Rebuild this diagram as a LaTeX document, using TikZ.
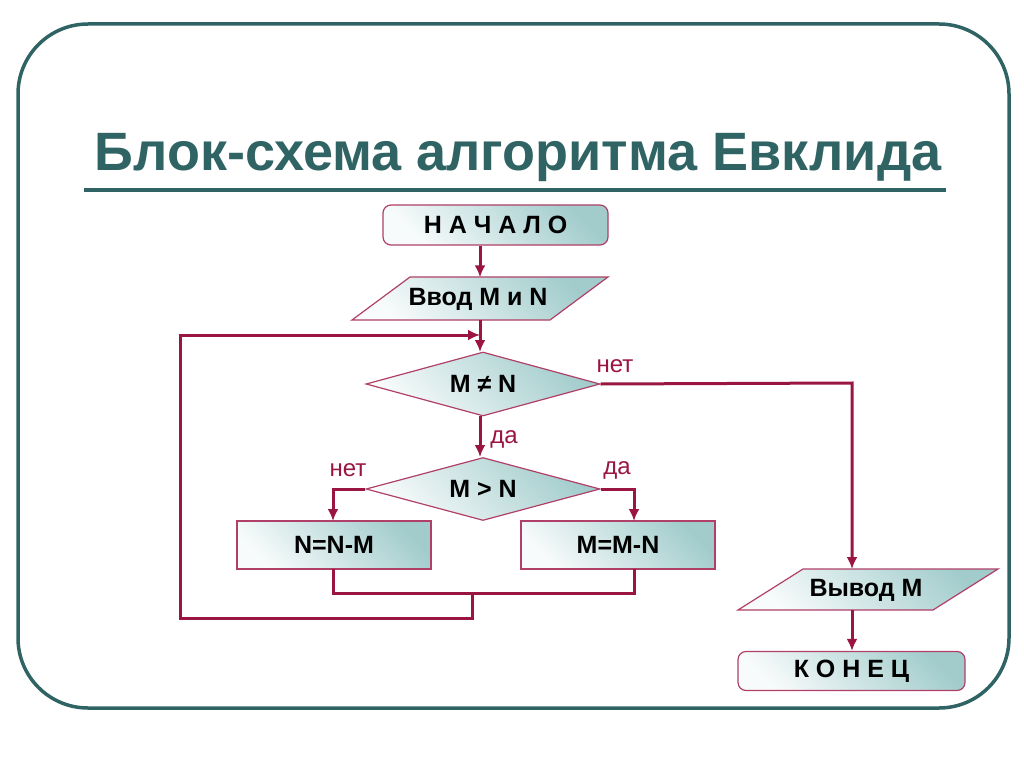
\documentclass[tikz,border=0pt]{standalone}
\usepackage{fontspec}
\setmainfont{Liberation Sans}
\usetikzlibrary{shapes.geometric,arrows.meta}
\definecolor{frame}{HTML}{306464}
\definecolor{wine}{HTML}{9A1540}
\definecolor{edge}{HTML}{B04068}
\definecolor{fillA}{HTML}{F8FBFB}
\definecolor{fillB}{HTML}{A2CCCC}
\tikzset{
  boxfill/.style={draw=edge, line width=1.2pt, left color=fillA, right color=fillB, shading angle=135},
  term/.style={boxfill, rounded corners=8pt, inner sep=0pt, font=\bfseries\fontsize{25}{25}\selectfont},
  proc/.style={boxfill, inner sep=0pt, font=\bfseries\fontsize{25}{25}\selectfont},
  dec/.style={boxfill, diamond, shape aspect=3.6, inner sep=0pt, font=\bfseries\fontsize{25}{25}\selectfont},
  txt/.style={inner sep=0pt, font=\bfseries\fontsize{25}{25}\selectfont},
  lbl/.style={inner sep=0pt, text=wine, font=\fontsize{24}{24}\selectfont},
  flow/.style={draw=wine, line width=3pt, -{Latex[length=12pt,width=11pt]}},
  link/.style={draw=wine, line width=3pt},
}
\begin{document}
\begin{tikzpicture}[x=1pt,y=-1pt]
\useasboundingbox (0,0) rectangle (1024,767);
\fill[white] (0,0) rectangle (1024,767);
% frame
\draw[frame, line width=3.5pt, rounded corners=70pt] (18,24) rectangle (1009,708);
% title
\node[inner sep=0pt, text=frame, font=\bfseries\fontsize{54}{54}\selectfont] (title) at (518,158) {Блок-схема алгоритма Евклида};
\draw[frame, line width=4.5pt] (84,190) -- (946,190);

% nodes
\node[term, minimum width=225pt, minimum height=40pt] (start) at (495.5,225) {Н А Ч А Л О};
% input parallelogram
\shade[boxfill] (410,277) -- (608,277) -- (550,320) -- (352,320) -- cycle;
\node[txt, minimum width=150pt, minimum height=43pt] (in) at (478,299) {Ввод M и N};
\node[dec, minimum width=234pt, minimum height=64pt] (d1) at (483,384) {M ≠ N};
\node[dec, minimum width=234pt, minimum height=63pt] (d2) at (483,489) {M > N};
\node[proc, minimum width=194pt, minimum height=48pt] (b1) at (334,545) {N=N-M};
\node[proc, minimum width=194pt, minimum height=48pt] (b2) at (618,545) {M=M-N};
% output parallelogram
\shade[boxfill] (803,569) -- (998,569) -- (933,610) -- (738,610) -- cycle;
\node[txt, minimum width=150pt, minimum height=41pt] (out) at (866,590) {Вывод М};
\node[term, minimum width=227pt, minimum height=39pt] (stop) at (851.5,671) {К О Н Е Ц};

% helper coordinates
\coordinate (inb) at (480,320);
\coordinate (d1t) at (480,352);
\coordinate (d1b) at (480,416);
\coordinate (d2t) at (480,457);
\coordinate (nr) at (852,383);
\coordinate (outt) at (852,569);
\coordinate (outb) at (852,610);
\coordinate (l2) at (333,489);
\coordinate (r2) at (634,489);
\coordinate (b1t) at (333,521);
\coordinate (b2t) at (634,521);
\coordinate (b1b) at (333,569);
\coordinate (b2b) at (634,569);
\coordinate (j1) at (333,593);
\coordinate (j2) at (634,593);
\coordinate (jm) at (472,593);
\coordinate (lp1) at (472,618);
\coordinate (lp2) at (180,618);
\coordinate (lp3) at (180,335);
\coordinate (lp4) at (480,335);

% connectors
\draw[flow] (start.south -| inb) -- (in.north -| inb);
\draw[flow] (inb) -- (d1t);
\draw[flow] (d1b) -- (d2t);
\draw[flow] (d1.east) -- (nr) -- (outt);
\draw[flow] (outb) -- (stop.north -| outb);
\draw[flow] (d2.west) -- (l2) -- (b1t);
\draw[flow] (d2.east) -- (r2) -- (b2t);
\draw[link] (b1b) -- (j1) -- (j2) -- (b2b);
\draw[flow] (jm) -- (lp1) -- (lp2) -- (lp3) -- (lp4);

% labels
\node[lbl] (n1) at (615,366) {нет};
\node[lbl] (y1) at (504,439) {да};
\node[lbl] (n2) at (348,470) {нет};
\node[lbl] (y2) at (617,470) {да};
\end{tikzpicture}
\end{document}
